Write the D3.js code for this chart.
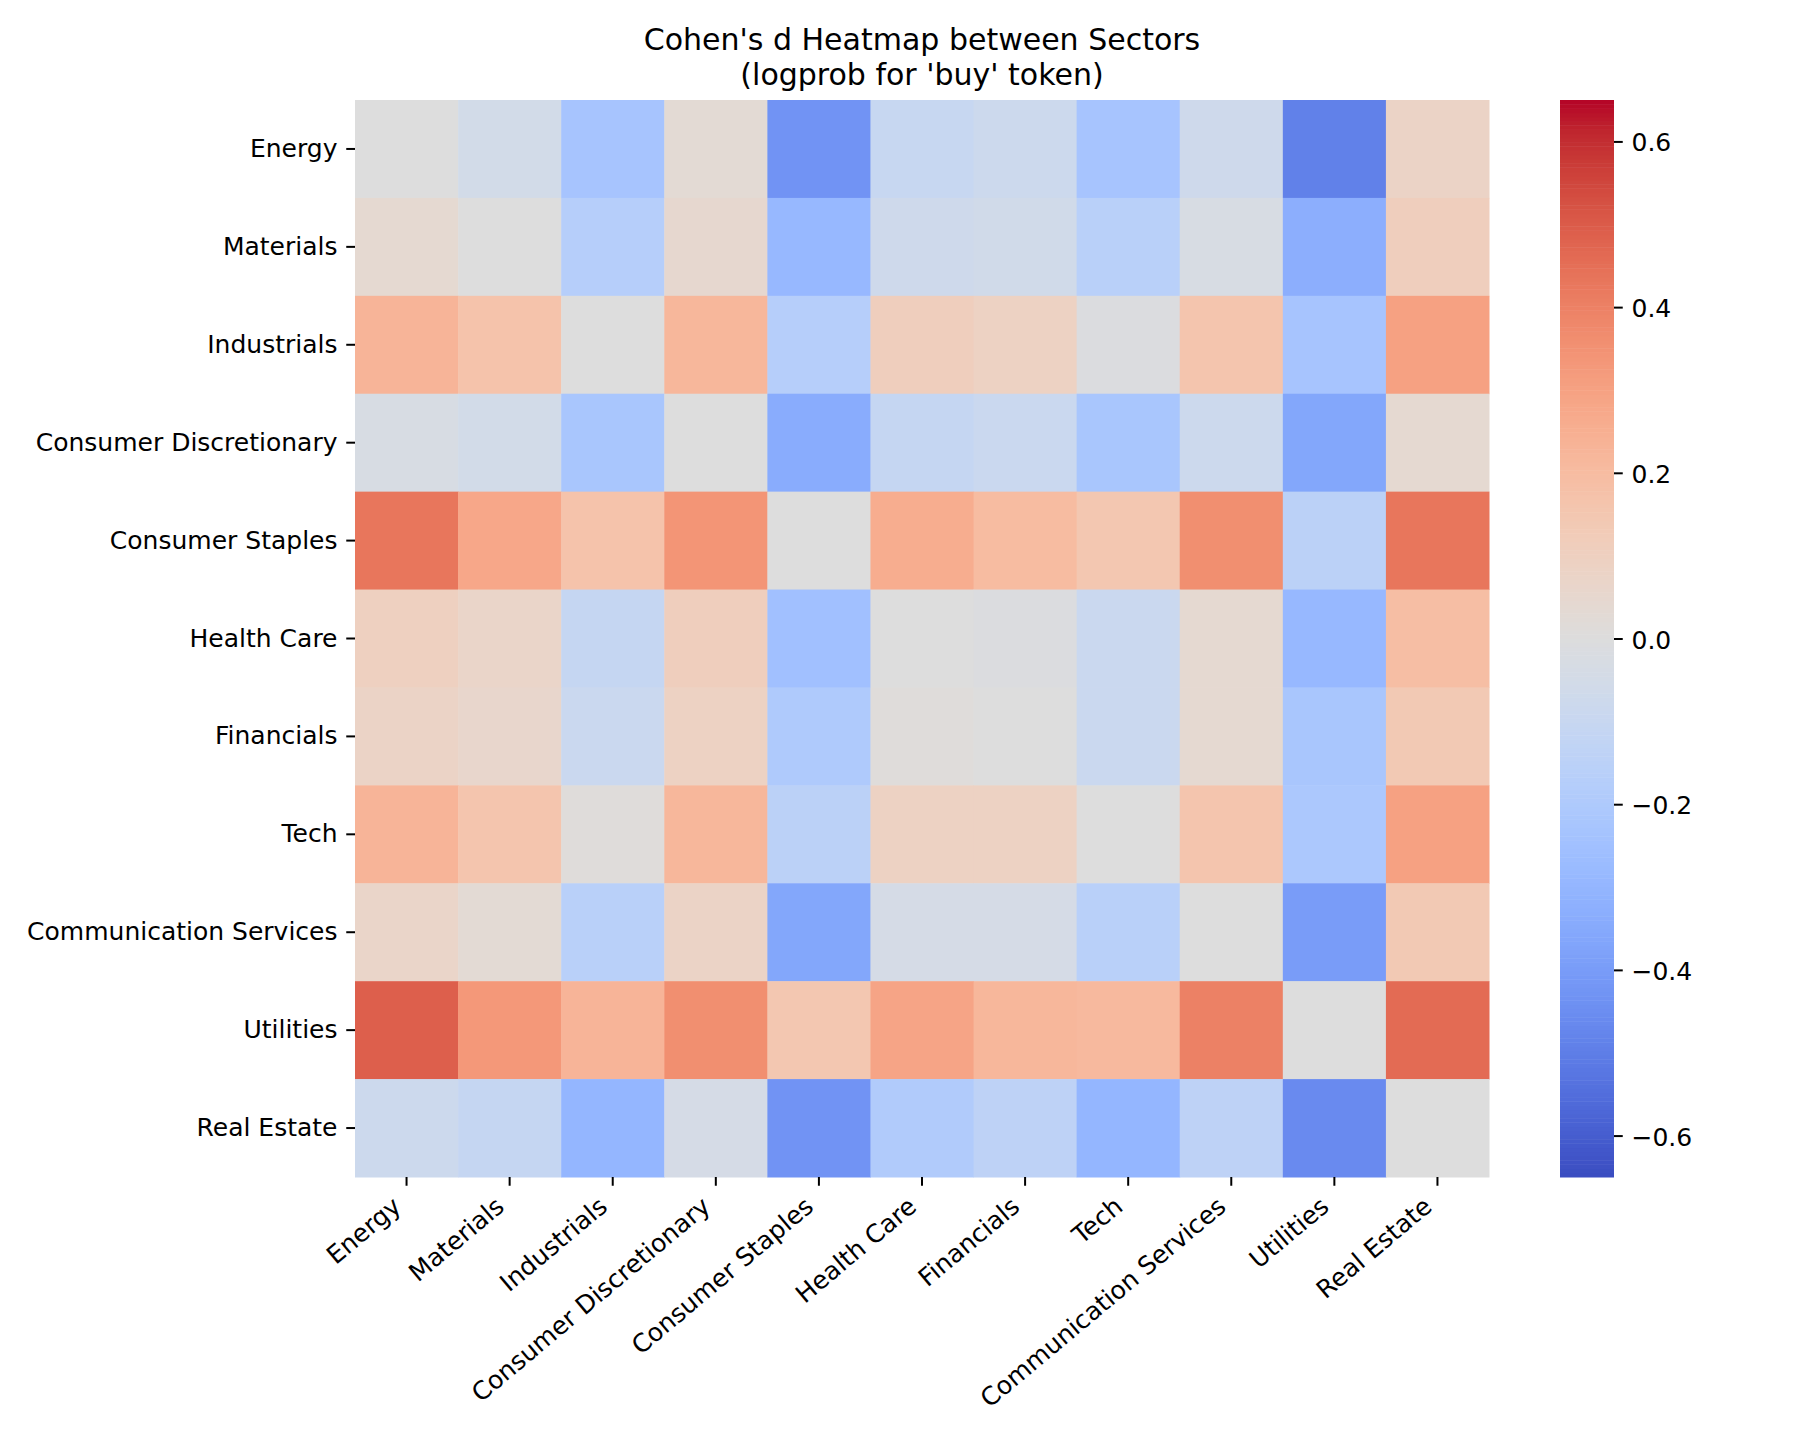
<!DOCTYPE html>
<html>
<head>
<meta charset="utf-8">
<script src="https://cdn.jsdelivr.net/npm/d3@7"></script>
<style>
  body { margin: 0; background: #fff; }
  text { font-family: "DejaVu Sans", sans-serif; fill: #000; }
</style>
</head>
<body>
<script>
// sector names, same order on both axes
const sectors = ["Energy", "Materials", "Industrials", "Consumer Discretionary", "Consumer Staples",
  "Health Care", "Financials", "Tech", "Communication Services", "Utilities", "Real Estate"]

// Cohen's d, row sector vs column sector
const values = [
  [ 0.00, -0.05, -0.23,  0.03, -0.43, -0.10, -0.08, -0.23, -0.07, -0.49,  0.08],
  [ 0.04,  0.00, -0.17,  0.05, -0.29, -0.07, -0.06, -0.16, -0.03, -0.33,  0.11],
  [ 0.23,  0.17,  0.00,  0.22, -0.17,  0.11,  0.09, -0.01,  0.16, -0.23,  0.30],
  [-0.03, -0.05, -0.22,  0.00, -0.34, -0.11, -0.09, -0.22, -0.08, -0.36,  0.04],
  [ 0.43,  0.28,  0.17,  0.34,  0.00,  0.26,  0.20,  0.15,  0.36, -0.15,  0.43],
  [ 0.10,  0.07, -0.11,  0.11, -0.25,  0.00, -0.01, -0.09,  0.04, -0.29,  0.19],
  [ 0.08,  0.06, -0.09,  0.09, -0.20,  0.01,  0.00, -0.09,  0.04, -0.22,  0.14],
  [ 0.23,  0.16,  0.01,  0.22, -0.15,  0.09,  0.09,  0.00,  0.16, -0.21,  0.30],
  [ 0.07,  0.03, -0.16,  0.08, -0.36, -0.04, -0.04, -0.16,  0.00, -0.40,  0.14],
  [ 0.49,  0.33,  0.23,  0.36,  0.15,  0.29,  0.22,  0.21,  0.40,  0.00,  0.46],
  [-0.08, -0.11, -0.30, -0.04, -0.43, -0.19, -0.14, -0.30, -0.14, -0.46,  0.00]
]

const cbarTicks = [-0.6, -0.4, -0.2, 0, 0.2, 0.4, 0.6]
const titleLines = ["Cohen's d Heatmap between Sectors", "(logprob for 'buy' token)"]
const vmin = -0.65, vmax = 0.65

// matplotlib coolwarm control points
const coolwarm = [
  [0.2298057,0.298717966,0.753683153],[0.26623388,0.353094838,0.801466763],[0.30386891,0.406535296,0.84495867],
  [0.342804478,0.458757618,0.883725899],[0.38301334,0.50941904,0.917387822],[0.424369608,0.558148092,0.945619588],
  [0.46666708,0.604562568,0.968154911],[0.509635204,0.648280772,0.98478814],[0.552953156,0.688929332,0.995375608],
  [0.596262162,0.726149107,0.999836203],[0.639176211,0.759599947,0.998151185],[0.681291281,0.788964712,0.990363227],
  [0.722193294,0.813952739,0.976574709],[0.761464949,0.834302879,0.956945269],[0.798691636,0.849786142,0.931688648],
  [0.833466556,0.860207984,0.901068838],[0.865395197,0.86541021,0.865395561],[0.897787179,0.848937047,0.820880546],
  [0.924127593,0.827384882,0.774508472],[0.944468518,0.800927443,0.726736146],[0.958852946,0.769767752,0.678007945],
  [0.96732803,0.734132809,0.628751763],[0.969954137,0.694266682,0.579375448],[0.966811177,0.650421156,0.530263762],
  [0.958003065,0.602842431,0.481775914],[0.943660866,0.551750968,0.434243684],[0.923944917,0.49730856,0.387970225],
  [0.89904617,0.439559467,0.343229596],[0.869186849,0.378313092,0.300267182],[0.834620542,0.312874446,0.259301199],
  [0.795631745,0.24128379,0.220525627],[0.752534934,0.157246067,0.184115123],[0.705673158,0.01555616,0.150232812]
]

const width = 1800, height = 1440
const pL = 355, pR = 1489, pT = 100, pB = 1177
const fs = 25, tick = 8.75

const cmap = d3.scaleLinear()
  .domain(coolwarm.map((c, i) => vmin + (vmax - vmin) * i / (coolwarm.length - 1)))
  .range(coolwarm.map(c => d3.rgb(c[0] * 255, c[1] * 255, c[2] * 255)))
  .interpolate(d3.interpolateRgb)
  .clamp(true)

const svg = d3.select("body").append("svg")
  .attr("width", width)
  .attr("height", height)

const x = d3.scaleBand().domain(sectors).range([pL, pR])
const y = d3.scaleBand().domain(sectors).range([pT, pB])

// cells
const cells = []
values.forEach((row, i) => row.forEach((v, j) => cells.push({r: sectors[i], c: sectors[j], v: v})))

svg.append("g").selectAll("rect")
  .data(cells)
  .enter()
  .append("rect")
  .attr("x", d => x(d.c))
  .attr("y", d => y(d.r))
  .attr("width", x.bandwidth() + 0.5)
  .attr("height", y.bandwidth() + 0.5)
  .attr("fill", d => cmap(d.v))

// y axis
const yAxis = svg.append("g")
  .attr("transform", `translate(${pL},0)`)
  .call(d3.axisLeft(y).tickSize(tick).tickPadding(tick))
yAxis.select(".domain").remove()
yAxis.selectAll("line").attr("stroke-width", 2)
yAxis.selectAll("text").attr("font-size", fs).attr("font-family", "DejaVu Sans").attr("dy", "0.32em")

// x axis, labels rotated 40 deg, right aligned to tick
const xAxis = svg.append("g")
  .attr("transform", `translate(0,${pB})`)
  .call(d3.axisBottom(x).tickSize(tick).tickPadding(tick))
xAxis.select(".domain").remove()
xAxis.selectAll("line").attr("stroke-width", 2)
const asc = 0.76 * fs, desc = 0.24 * fs
const ang = 40 * Math.PI / 180
xAxis.selectAll("text")
  .attr("font-size", fs)
  .attr("font-family", "DejaVu Sans")
  .attr("text-anchor", "end")
  .attr("y", 0)
  .attr("dy", 0)
  .attr("transform", `translate(${-Math.sin(ang) * desc},${2 * tick + Math.cos(ang) * asc}) rotate(-40)`)

// colorbar
const cbL = 1560, cbR = 1614
const cy = d3.scaleLinear().domain([vmin, vmax]).range([pB, pT])
const nLev = 256
svg.append("g").selectAll("rect")
  .data(d3.range(nLev))
  .enter()
  .append("rect")
  .attr("x", cbL)
  .attr("width", cbR - cbL)
  .attr("y", i => cy(vmin + (vmax - vmin) * (i + 1) / nLev))
  .attr("height", (pB - pT) / nLev + 0.5)
  .attr("fill", i => cmap(vmin + (vmax - vmin) * (i + 0.5) / nLev))

const cAxis = svg.append("g")
  .attr("transform", `translate(${cbR},0)`)
  .call(d3.axisRight(cy).tickValues(cbarTicks).tickFormat(d3.format(".1f")).tickSize(tick).tickPadding(tick))
cAxis.select(".domain").remove()
cAxis.selectAll("line").attr("stroke-width", 2)
cAxis.selectAll("text").attr("font-size", fs).attr("font-family", "DejaVu Sans").attr("dy", "0.38em")

// title
svg.append("g").selectAll("text")
  .data(titleLines)
  .enter()
  .append("text")
  .attr("x", (pL + pR) / 2)
  .attr("y", (d, i) => 50 + i * 35)
  .attr("text-anchor", "middle")
  .attr("font-size", 30)
  .text(d => d)
</script>
</body>
</html>
